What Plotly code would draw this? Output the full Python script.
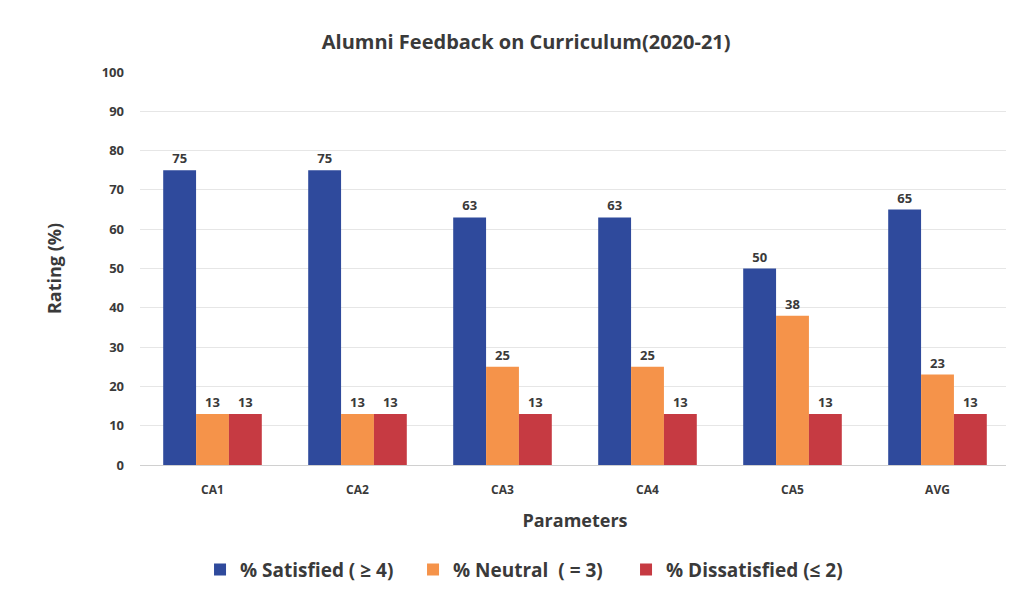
import plotly.graph_objects as go

# Data
categories = ["CA1", "CA2", "CA3", "CA4", "CA5", "AVG"]
satisfied = [75, 75, 63, 63, 50, 65]
neutral = [13, 13, 25, 25, 38, 23]
dissatisfied = [13, 13, 13, 13, 13, 13]
y_ticks = [0, 10, 20, 30, 40, 50, 60, 70, 80, 90, 100]

FONT = "'Open Sans', Lato, sans-serif"
TEXT = "#3a3a3a"

series = [
    ("% Satisfied ( ≥ 4)", satisfied, "#2f4a9c"),
    ("% Neutral  ( = 3)", neutral, "#f5934a"),
    ("% Dissatisfied (≤ 2)", dissatisfied, "#c63a42"),
]

fig = go.Figure()
for i, (name, vals, colour) in enumerate(series):
    fig.add_trace(go.Bar(
        x=categories,
        y=vals,
        name=name,
        marker=dict(color=colour, line=dict(width=0)),
        text=[str(v) for v in vals],
        textposition="outside",
        cliponaxis=False,
        textfont=dict(family=FONT, size=13, color=TEXT, weight="bold"),
        # last legend entry keeps its natural width so it is not clipped
        legendwidth=168 if i < len(series) - 1 else None,
    ))

fig.update_layout(
    width=1014,
    height=592,
    barmode="group",
    bargap=0.32,
    bargroupgap=0,
    plot_bgcolor="white",
    paper_bgcolor="white",
    font=dict(family=FONT, color=TEXT),
    title=dict(
        text="Alumni Feedback on Curriculum(2020-21)",
        x=0.511, xanchor="center", y=0.943, yanchor="middle",
        font=dict(size=20, weight="bold", color=TEXT),
    ),
    margin=dict(l=132, r=12, t=64, b=134),
    legend=dict(
        orientation="h",
        x=0.069, xanchor="left",
        y=-0.215, yanchor="top",
        font=dict(size=19, color=TEXT, weight="bold"),
        itemwidth=30,
        traceorder="normal",
    ),
    xaxis=dict(
        title=dict(text="Parameters", font=dict(size=18, weight="bold", color=TEXT), standoff=16),
        tickfont=dict(size=12, weight="bold", color=TEXT),
        ticklabelstandoff=14,
        showline=True, linecolor="#d0d0d0", linewidth=1,
        ticks="",
        automargin=False,
    ),
    yaxis=dict(
        title=dict(text="Rating (%)", font=dict(size=18, weight="bold", color=TEXT), standoff=35),
        range=[0, 100],
        tickvals=y_ticks,
        tickfont=dict(size=13, weight="bold", color=TEXT),
        ticklabelstandoff=15,
        showgrid=True, gridcolor="#e6e6e6", gridwidth=1,
        zeroline=False,
        ticks="",
        automargin=False,
    ),
)

fig.write_html("out.html")
